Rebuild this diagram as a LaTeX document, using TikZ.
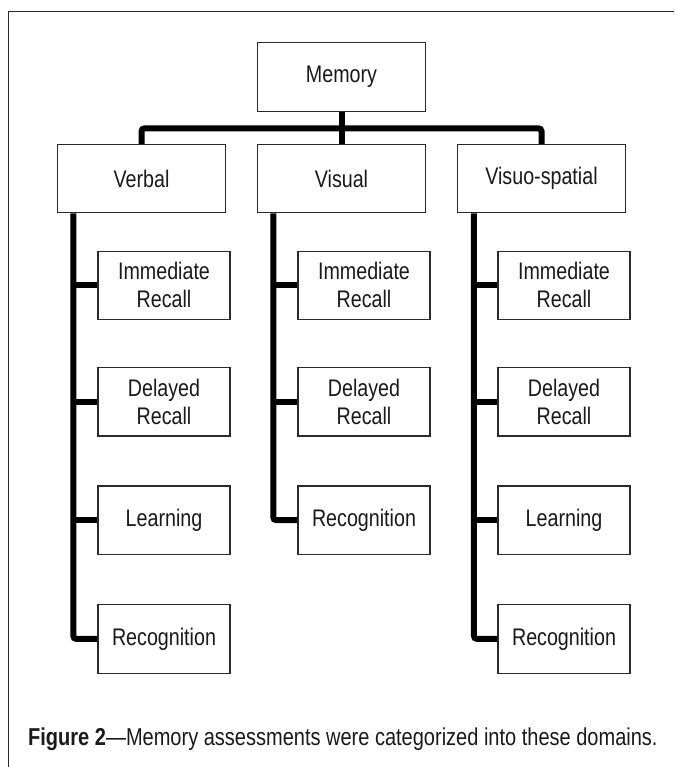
\documentclass[tikz,border=0pt]{standalone}
\usepackage{fontspec}
\setmainfont{Liberation Sans}[FakeStretch=0.82]
\usetikzlibrary{calc}
\definecolor{ink}{HTML}{1A1A1A}
\definecolor{edge}{HTML}{2A2A2A}
\begin{document}
\begin{tikzpicture}[x=1pt,y=-1pt,
  box/.style={draw=edge,line width=1.1pt,fill=white,inner sep=0pt,
    minimum width=168.4pt,minimum height=68.4pt,align=center,
    text=ink,font=\fontsize{24}{28}\selectfont},
  leaf/.style={box,minimum width=132pt},
  wire/.style={line width=6pt,black,rounded corners=3pt},
  frameline/.style={draw=edge,line width=1.4pt}]
\useasboundingbox (0,0) rectangle (674,767);
\fill[white] (0,0) rectangle (674,767);

% outer frame (only its top and left sides fall inside the page)
\draw[frameline] (8.3,767) |- (674,11.7);

% top level and the three domains
\node[box] (mem) at (341.5,76.9) {Memory};
\node[box] (verbal) at (141.5,178.6) {Verbal};
\node[box] (visual) at (341.5,178.6) {Visual};
\node[box] (vs) at (541.5,178.6) {Visuo-spatial};

% assessments under each domain
\foreach \c/\p in {164/vb,364/vi,564/vp}{
  \node[leaf] (\p1) at (\c,285.3) {Immediate\\Recall};
  \node[leaf] (\p2) at (\c,401.8) {Delayed\\Recall};
}
\node[leaf] (vb3) at (164,520.2) {Learning};
\node[leaf] (vb4) at (164,638.9) {Recognition};
\node[leaf] (vi3) at (364,520.2) {Recognition};
\node[leaf] (vp3) at (564,520.2) {Learning};
\node[leaf] (vp4) at (564,638.9) {Recognition};

% connectors from Memory to the domains
\coordinate (bus) at (341.5,128.3);
\draw[wire] (mem) -- (visual);
\draw[wire] (verbal.north) |- (bus) -| (vs.north);

% trunks down the left side of each domain
\coordinate (vbt) at ($(verbal.south west)+(16.5,0)$);
\coordinate (vit) at ($(visual.south west)+(16.5,0)$);
\coordinate (vpt) at ($(vs.south west)+(17.2,0)$);
\draw[wire] (vbt) |- (vb4.west);
\draw[wire] (vit) |- (vi3.west);
\draw[wire] (vpt) |- (vp4.west);
\foreach \p/\t in {vb1/vbt,vb2/vbt,vb3/vbt,vi1/vit,vi2/vit,vp1/vpt,vp2/vpt,vp3/vpt}
  \draw[wire] (\p.west) -- (\p.west -| \t);

% caption
\node[anchor=base west,inner sep=0pt,text=ink,font=\fontsize{24.4}{28}\selectfont]
  (cap) at (28,745) {\textbf{Figure 2}---Memory assessments were categorized into these domains.};
\end{tikzpicture}
\end{document}
